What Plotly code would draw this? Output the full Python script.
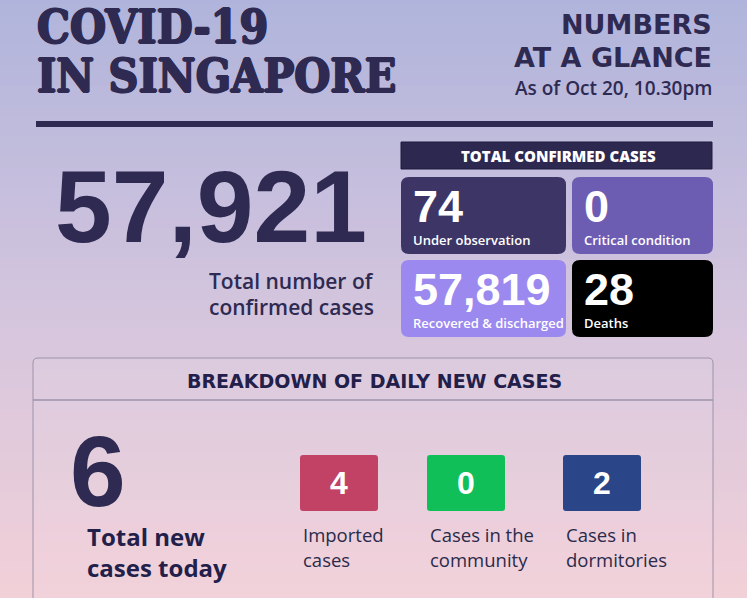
import numpy as np
import plotly.graph_objects as go

# numbers shown on the card
title_lines = ["COVID-19", "IN SINGAPORE"]
header_lines = ["NUMBERS", "AT A GLANCE"]
as_of = "As of Oct 20, 10.30pm"

total_confirmed = 57921
total_label = ["Total number of", "confirmed cases"]

status_labels = ["Under observation", "Critical condition", "Recovered & discharged", "Deaths"]
status_values = [74, 0, 57819, 28]
status_colors = ["#3d3566", "#6c5db3", "#9b89ef", "#000000"]

new_total = 6
new_labels = [["Imported", "cases"], ["Cases in the", "community"], ["Cases in", "dormitories"]]
new_values = [4, 0, 2]
new_colors = ["#c24266", "#10bf58", "#2b4589"]

W, H = 747, 598
NAVY = "#2e2a52"
SANS = "Open Sans, Noto Sans, sans-serif"
WIDE = "DejaVu Sans, sans-serif"
NUM = "Liberation Sans, Arial, sans-serif"
SLAB = "DejaVu Serif Condensed, DejaVu Serif, serif"


def rbox(x0, y0, x1, y1, r):
    return (f"M {x0+r},{y0} L {x1-r},{y0} Q {x1},{y0} {x1},{y0+r} "
            f"L {x1},{y1-r} Q {x1},{y1} {x1-r},{y1} L {x0+r},{y1} "
            f"Q {x0},{y1} {x0},{y1-r} L {x0},{y0+r} Q {x0},{y0} {x0+r},{y0} Z")


fig = go.Figure()

# soft vertical gradient behind everything
ys = np.linspace(0, H, 60)
fig.add_trace(go.Heatmap(x=[0, W], y=ys, z=[[v, v] for v in ys],
                         colorscale=[[0, "#b0b4dc"], [0.55, "#d6c6dd"], [1, "#f2d0d8"]],
                         showscale=False, hoverinfo="skip"))

shapes = []
ann = []


def text(x, y, s, size, color=NAVY, family=SANS, weight=400, xanchor="left", shadow="none"):
    ann.append(dict(x=x, y=y, text=s, showarrow=False, xanchor=xanchor, yanchor="middle",
                    font=dict(size=size, color=color, family=family, weight=weight, shadow=shadow)))


# title block (shadow used to thicken the slab face)
thick = f"1px 0 0 {NAVY}, -1px 0 0 {NAVY}, 0 0.7px 0 {NAVY}, 0 -0.7px 0 {NAVY}"
text(35, 27, title_lines[0], 46, family=SLAB, weight=700, shadow=thick)
text(35, 76, title_lines[1], 46, family=SLAB, weight=700, shadow=thick)
text(714, 24, header_lines[0], 27, family=WIDE, weight=700, xanchor="right")
text(714, 57, header_lines[1], 27, family=WIDE, weight=700, xanchor="right")
text(714, 88, as_of, 19, weight=600, xanchor="right")
shapes.append(dict(type="rect", x0=36, x1=713, y0=121, y1=127, fillcolor=NAVY, line_width=0))

# total confirmed
text(53, 207, f"{total_confirmed:,}", 102, family=NUM, weight=700)
text(376, 281, total_label[0], 21, weight=600, xanchor="right")
text(376, 307, total_label[1], 21, weight=600, xanchor="right")

# status tiles
shapes.append(dict(type="rect", x0=401, x1=712, y0=142, y1=169, fillcolor="#2d2850",
                   line=dict(color="#1e1a3c", width=1)))
text(558, 156, "TOTAL CONFIRMED CASES", 15, color="white", weight=800, xanchor="center")
cols = [(401, 566), (572, 713)]
rows = [(177, 254), (260, 337)]
for i, (lab, val, col) in enumerate(zip(status_labels, status_values, status_colors)):
    x0, x1 = cols[i % 2]
    y0, y1 = rows[i // 2]
    shapes.append(dict(type="path", path=rbox(x0, y0, x1, y1, 8), fillcolor=col, line_width=0))
    text(x0 + 10, y0 + 29, f"{val:,}", 45, color="white", family=NUM, weight=700)
    text(x0 + 10, y0 + 63, lab, 13, color="white", weight=600)

# daily new cases panel
shapes.append(dict(type="path", path=rbox(33, 358, 713, 640, 5),
                   fillcolor="rgba(255,255,255,0.06)", line=dict(color="#9d93aa", width=1)))
shapes.append(dict(type="line", x0=33, x1=713, y0=400, y1=400, line=dict(color="#9d93aa", width=1.5)))
text(374, 381, "BREAKDOWN OF DAILY NEW CASES", 19, color="#22204a", family=WIDE, weight=700,
     xanchor="center")

text(68, 471, str(new_total), 100, family=NUM, weight=700)
text(85, 536, "Total new", 24, color="#22204a", weight=700)
text(85, 567, "cases today", 24, color="#22204a", weight=700)

tile_x = [300, 427, 563]
for x0, lab, val, col in zip(tile_x, new_labels, new_values, new_colors):
    shapes.append(dict(type="path", path=rbox(x0, 455, x0 + 78, 511, 3), fillcolor=col, line_width=0))
    text(x0 + 39, 483, str(val), 32, color="white", family=NUM, weight=700, xanchor="center")
    text(x0 + 1, 534, lab[0], 18.5, color="#2a2a4a")
    text(x0 + 1, 559, lab[1], 18.5, color="#2a2a4a")

fig.update_layout(width=W, height=H, margin=dict(l=0, r=0, t=0, b=0),
                  shapes=shapes, annotations=ann, showlegend=False,
                  paper_bgcolor="#d6c6dd", plot_bgcolor="#d6c6dd",
                  xaxis=dict(range=[0, W], visible=False, fixedrange=True),
                  yaxis=dict(range=[H, 0], visible=False, fixedrange=True))

fig.write_html("out.html", config={"displayModeBar": False},
               post_script="document.body.style.margin='0';")
